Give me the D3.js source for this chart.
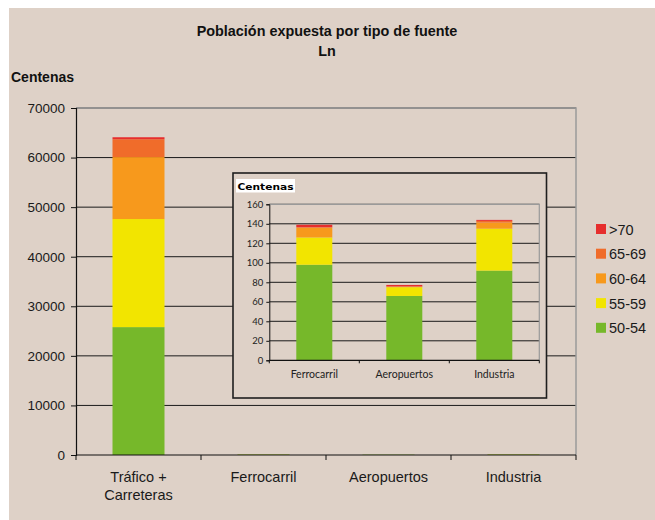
<!DOCTYPE html>
<html>
<head>
<meta charset="utf-8">
<script src="https://cdn.jsdelivr.net/npm/d3@7"></script>
<style>
  html, body { margin: 0; padding: 0; background: #fff; }
  svg { display: block; }
</style>
</head>
<body>
<svg id="chart" width="655" height="520"></svg>
<script>
// Exposed population (hundreds) per noise band and source type
const categories = ["Tráfico + Carreteras", "Ferrocarril", "Aeropuertos", "Industria"];
const categoryLines = [["Tráfico +", "Carreteras"], ["Ferrocarril"], ["Aeropuertos"], ["Industria"]];
const bands = ["50-54", "55-59", "60-64", "65-69", ">70"];
const bandColors = ["#76b82a", "#f2e500", "#f7991c", "#f06c2a", "#e62e2d"];

const values50_54 = [25800, 98, 66, 92];
const values55_59 = [21800, 28, 9, 43];
const values60_64 = [12500, 10, 0.5, 6.3];
const values65_69 = [3600, 0.5, 0.3, 1.7];
const valuesOver70 = [400, 2.5, 1.5, 1];

const mainTicks = [0, 10000, 20000, 30000, 40000, 50000, 60000, 70000];
const insetTicks = [0, 20, 40, 60, 80, 100, 120, 140, 160];
const insetCategories = ["Ferrocarril", "Aeropuertos", "Industria"];

const seriesValues = [values50_54, values55_59, values60_64, values65_69, valuesOver70];
const rows = categories.map((c, i) => {
  const r = { category: c };
  bands.forEach((b, k) => { r[b] = seriesValues[k][i]; });
  return r;
});
const stacked = d3.stack().keys(bands)(rows);

const svg = d3.select("#chart");
const BG = "#ded1c7";

svg.append("rect").attr("x", 9).attr("y", 8).attr("width", 646).attr("height", 512).attr("fill", BG);

const font = "'Liberation Sans', Arial, sans-serif";

// Titles
svg.append("text").attr("x", 327).attr("y", 36).attr("text-anchor", "middle")
  .attr("font-family", font).attr("font-size", 14.4).attr("font-weight", "bold").attr("fill", "#111")
  .text("Población expuesta por tipo de fuente");
svg.append("text").attr("x", 327).attr("y", 56).attr("text-anchor", "middle")
  .attr("font-family", font).attr("font-size", 14.4).attr("font-weight", "bold").attr("fill", "#111")
  .text("Ln");
svg.append("text").attr("x", 11).attr("y", 82)
  .attr("font-family", font).attr("font-size", 14).attr("font-weight", "bold").attr("fill", "#111")
  .text("Centenas");

// ---- Main chart ----
const x = d3.scaleBand().domain(categories).range([76, 576]).paddingInner(0.584).paddingOuter(0.292);
const y = d3.scaleLinear().domain([0, 70000]).range([455, 108]);

const main = svg.append("g");

// horizontal gridlines
main.append("g").selectAll("line").data(mainTicks.filter(t => t > 0)).join("line")
  .attr("x1", 76).attr("x2", 576)
  .attr("y1", d => y(d)).attr("y2", d => y(d))
  .attr("stroke", "#1a1a1a").attr("stroke-width", 1);

// plot frame (top & right)
main.append("path")
  .attr("d", `M76,${y(70000)}H576V${y(0)}`)
  .attr("fill", "none").attr("stroke", "#9a9a9a").attr("stroke-width", 1.5);

// stacked bars
main.append("g").selectAll("g").data(stacked).join("g")
  .attr("fill", (d, i) => bandColors[i])
  .selectAll("rect").data(d => d).join("rect")
  .attr("x", d => x(d.data.category))
  .attr("width", x.bandwidth())
  .attr("y", d => y(d[1]))
  .attr("height", d => y(d[0]) - y(d[1]));

// y axis
const yAxis = main.append("g").attr("transform", "translate(76,0)")
  .call(d3.axisLeft(y).tickValues(mainTicks).tickSize(5).tickPadding(6).tickFormat(d3.format("d")));
yAxis.select(".domain").attr("stroke", "#111").attr("stroke-width", 1.2);
yAxis.selectAll(".tick line").attr("stroke", "#111");
yAxis.selectAll("text").attr("font-family", font).attr("font-size", 13.5).attr("fill", "#1a1a1a");

// x axis with ticks at band boundaries
const step = x.step();
const xa = main.append("g");
xa.append("line").attr("x1", 76).attr("x2", 576).attr("y1", y(0)).attr("y2", y(0)).attr("stroke", "#111").attr("stroke-width", 1.2);
xa.selectAll("line.tk").data(d3.range(categories.length + 1)).join("line").attr("class", "tk")
  .attr("x1", i => 76 + i * step).attr("x2", i => 76 + i * step)
  .attr("y1", y(0)).attr("y2", y(0) + 5).attr("stroke", "#111");
xa.selectAll("text").data(categories).join("text")
  .attr("x", d => x(d) + x.bandwidth() / 2)
  .attr("y", y(0) + 27)
  .attr("text-anchor", "middle")
  .attr("font-family", font).attr("font-size", 14.5).attr("fill", "#1a1a1a")
  .each(function (d, i) {
    const t = d3.select(this);
    categoryLines[i].forEach((line, k) => {
      t.append("tspan").attr("x", x(d) + x.bandwidth() / 2).attr("dy", k === 0 ? 0 : 18).text(line);
    });
  });

// legend
const legend = svg.append("g").attr("transform", "translate(596,229)");
const legendOrder = bands.slice().reverse();
legend.selectAll("g").data(legendOrder).join("g")
  .attr("transform", (d, i) => `translate(0,${i * 24.7})`)
  .each(function (d) {
    const g = d3.select(this);
    g.append("rect").attr("x", 0).attr("y", -5).attr("width", 10).attr("height", 10)
      .attr("fill", bandColors[bands.indexOf(d)]);
    g.append("text").attr("x", 13).attr("y", 5.5)
      .attr("font-family", font).attr("font-size", 14.5).attr("fill", "#1a1a1a").text(d);
  });

// ---- Inset chart (small sources) ----
const insetFont = "Lato, 'Open Sans', sans-serif";
const inset = svg.append("g");
inset.append("rect").attr("x", 233).attr("y", 173).attr("width", 313.5).attr("height", 225)
  .attr("fill", BG).attr("stroke", "#1e1e1e").attr("stroke-width", 1.6);

// white label box
inset.append("rect").attr("x", 236).attr("y", 179).attr("width", 59).attr("height", 13.5).attr("fill", "#fff");
inset.append("text").attr("x", 237.5).attr("y", 189.5)
  .attr("font-family", "'DejaVu Sans', sans-serif").attr("font-size", 9).attr("font-weight", "bold")
  .attr("fill", "#000").attr("textLength", 56).attr("lengthAdjust", "spacingAndGlyphs")
  .text("Centenas");

const xi = d3.scaleBand().domain(insetCategories).range([269.3, 539.3]).paddingInner(0.6).paddingOuter(0.3);
const yi = d3.scaleLinear().domain([0, 160]).range([360.3, 204.3]);

inset.append("g").selectAll("line").data(insetTicks.filter(t => t > 0)).join("line")
  .attr("x1", 269.3).attr("x2", 539.3)
  .attr("y1", d => yi(d)).attr("y2", d => yi(d))
  .attr("stroke", "#1a1a1a").attr("stroke-width", 1);
inset.append("path")
  .attr("d", `M269.3,${yi(160)}H539.3V${yi(0)}`)
  .attr("fill", "none").attr("stroke", "#9a9a9a").attr("stroke-width", 1.2);

const insetRows = rows.filter(r => insetCategories.includes(r.category));
const insetStacked = d3.stack().keys(bands)(insetRows);
inset.append("g").selectAll("g").data(insetStacked).join("g")
  .attr("fill", (d, i) => bandColors[i])
  .selectAll("rect").data(d => d).join("rect")
  .attr("x", d => xi(d.data.category))
  .attr("width", xi.bandwidth())
  .attr("y", d => yi(d[1]))
  .attr("height", d => yi(d[0]) - yi(d[1]));

const yiAxis = inset.append("g").attr("transform", "translate(269.3,0)")
  .call(d3.axisLeft(yi).tickValues(insetTicks).tickSize(3).tickPadding(3));
yiAxis.select(".domain").attr("stroke", "#111");
yiAxis.selectAll(".tick line").attr("stroke", "#111");
yiAxis.selectAll("text").attr("font-family", insetFont).attr("font-size", 9.5).attr("fill", "#222");

const stepI = xi.step();
const xia = inset.append("g");
xia.append("line").attr("x1", 269.3).attr("x2", 539.3).attr("y1", yi(0)).attr("y2", yi(0)).attr("stroke", "#111").attr("stroke-width", 1.2);
xia.selectAll("line.tk").data(d3.range(insetCategories.length + 1)).join("line").attr("class", "tk")
  .attr("x1", i => 269.3 + i * stepI).attr("x2", i => 269.3 + i * stepI)
  .attr("y1", yi(0)).attr("y2", yi(0) + 3).attr("stroke", "#111");
xia.selectAll("text").data(insetCategories).join("text")
  .attr("x", d => xi(d) + xi.bandwidth() / 2)
  .attr("y", yi(0) + 18)
  .attr("text-anchor", "middle")
  .attr("font-family", insetFont).attr("font-size", 10.5).attr("fill", "#222")
  .text(d => d);
</script>
</body>
</html>
